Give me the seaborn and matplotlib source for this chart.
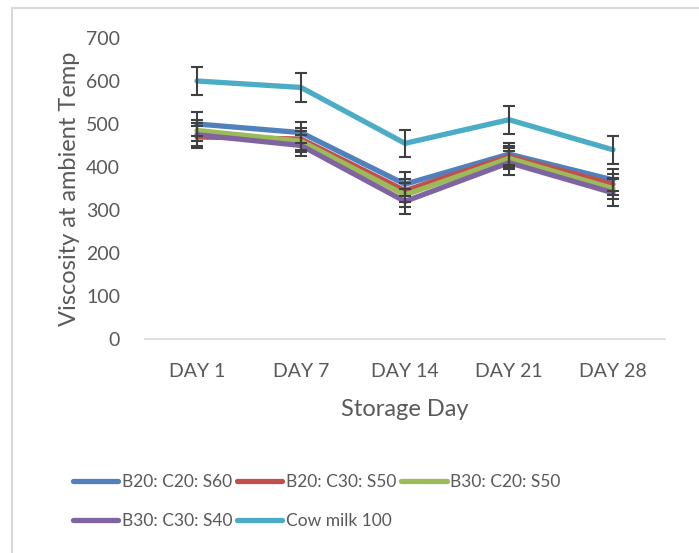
import pandas as pd
import matplotlib.pyplot as plt
import seaborn as sns
from matplotlib.lines import Line2D

# data
days = ["DAY 1", "DAY 7", "DAY 14", "DAY 21", "DAY 28"]
series_names = ["B20: C20: S60", "B20: C30: S50", "B30: C20: S50", "B30: C30: S40", "Cow milk 100"]
b20_c20_s60 = [500, 480, 360, 430, 370]
b20_c30_s50 = [470, 465, 345, 425, 360]
b30_c20_s50 = [485, 460, 335, 420, 350]
b30_c30_s40 = [475, 450, 320, 410, 340]
cow_milk = [600, 585, 455, 510, 440]
err_b20_c20_s60 = [28, 25, 28, 25, 25]
err_b20_c30_s50 = [25, 25, 27, 24, 24]
err_b30_c20_s50 = [25, 24, 27, 24, 24]
err_b30_c30_s40 = [27, 25, 30, 28, 31]
err_cow_milk = [33, 33, 32, 33, 33]

colors = ["#4F81BD", "#C0504D", "#9BBB59", "#8064A2", "#4BACC6"]
text_color = "#595959"

values = [b20_c20_s60, b20_c30_s50, b30_c20_s50, b30_c30_s40, cow_milk]
errors = [err_b20_c20_s60, err_b20_c30_s50, err_b30_c20_s50, err_b30_c30_s40, err_cow_milk]

records = []
for name, vals, errs in zip(series_names, values, errors):
    for i, (d, v, e) in enumerate(zip(days, vals, errs)):
        records.append({"pos": i, "day": d, "value": v, "err": e, "series": name})
data = pd.DataFrame(records)

sns.set_style("white")
plt.rcParams["font.family"] = ["Lato", "DejaVu Sans"]

fig = plt.figure(figsize=(6.99, 5.53), dpi=100)
ax = fig.add_axes([145 / 699, 1 - 339 / 553, 520 / 699, 301 / 553])

palette = dict(zip(series_names, colors))
sns.lineplot(data=data, x="pos", y="value", hue="series", hue_order=series_names,
             palette=palette, linewidth=3.8, legend=False, ax=ax,
             solid_capstyle="round", solid_joinstyle="round")

for name in series_names:
    sub = data[data["series"] == name]
    ax.errorbar(sub["pos"], sub["value"], yerr=sub["err"], fmt="none",
                ecolor="#404040", elinewidth=1.5, capsize=4.3, capthick=1.5, zorder=5)

ax.set_xlim(-0.5, 4.5)
ax.set_ylim(0, 700)
ax.set_xticks(range(len(days)))
ax.set_xticklabels(days)
ax.set_yticks(range(0, 701, 100))
ax.tick_params(axis="both", length=0, labelsize=14, colors=text_color)
ax.tick_params(axis="y", pad=18)
ax.tick_params(axis="x", pad=17)
for side in ["top", "right", "left"]:
    ax.spines[side].set_visible(False)
ax.spines["bottom"].set_color("#D9D9D9")
ax.spines["bottom"].set_linewidth(1.2)

ax.set_xlabel("Storage Day", fontsize=17, color=text_color, labelpad=14)
ax.set_ylabel("Viscosity at ambient Temp", fontsize=17, color=text_color, labelpad=4)

# legend fills column by column, so order entries to read row by row
order = [0, 3, 1, 4, 2]
handles = [Line2D([0], [0], color=colors[i], linewidth=3.8, solid_capstyle="round") for i in order]
labels = [series_names[i] for i in order]
fig.legend(handles, labels, loc="upper left", bbox_to_anchor=(66 / 699, 1 - 467 / 553),
           ncol=3, frameon=False, fontsize=12.5, handlelength=2.6, handletextpad=0.2,
           columnspacing=0.3, labelspacing=1.35, labelcolor=text_color, borderaxespad=0)

# outer chart border (only left and top edges show in the crop)
fig.add_artist(Line2D([12 / 699, 12 / 699], [0, 1 - 8 / 553], transform=fig.transFigure,
                      color="#D9D9D9", linewidth=1.5))
fig.add_artist(Line2D([12 / 699, 1], [1 - 8 / 553, 1 - 8 / 553], transform=fig.transFigure,
                      color="#D9D9D9", linewidth=1.5))

fig.savefig("out.png", dpi=100)
